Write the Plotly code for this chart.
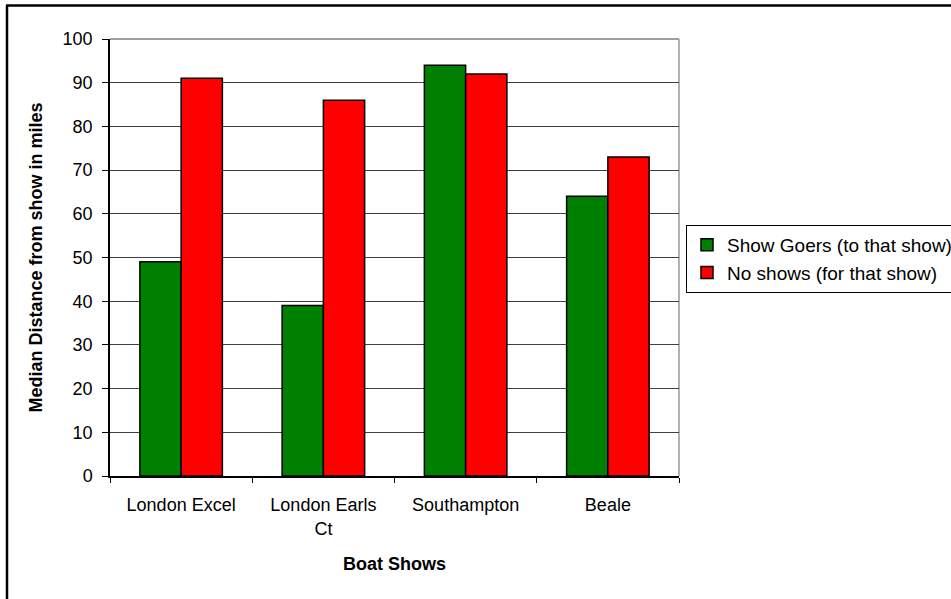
import plotly.graph_objects as go

# Boat show categories and median distances (miles)
shows = ["London Excel", "London Earls Ct", "Southampton", "Beale"]
show_labels = ["London Excel", "London Earls<br>Ct", "Southampton", "Beale"]
goers = [49, 39, 94, 64]
no_shows = [91, 86, 92, 73]

W, H = 951, 599
L, R, T, B = 110, 272, 39, 123
plot_w = W - L - R
plot_h = H - T - B


def px_x(px):
    return (px - L) / plot_w


def px_y(py):
    return (H - B - py) / plot_h


FONT = "Arial, Liberation Sans, sans-serif"

fig = go.Figure()
fig.add_bar(
    x=shows, y=goers, name="Show Goers (to that show)",
    marker=dict(color="#008000", line=dict(color="black", width=1.5)),
)
fig.add_bar(
    x=shows, y=no_shows, name="No shows (for that show)",
    marker=dict(color="#FF0000", line=dict(color="black", width=1.5)),
)

# plot-area frame (top/right) and outer chart border
shapes = [
    dict(type="line", xref="paper", yref="paper", x0=0, x1=1, y0=1, y1=1,
         line=dict(color="#808080", width=1.5), layer="below"),
    dict(type="line", xref="paper", yref="paper", x0=1, x1=1, y0=0, y1=1,
         line=dict(color="#999999", width=1.5), layer="below"),
    dict(type="line", xref="paper", yref="paper",
         x0=px_x(6), x1=px_x(W + 20), y0=px_y(5.5), y1=px_y(5.5),
         line=dict(color="black", width=2.5)),
    dict(type="line", xref="paper", yref="paper",
         x0=px_x(7), x1=px_x(7), y0=px_y(5.5), y1=px_y(H + 20),
         line=dict(color="black", width=2.5)),
]

fig.update_layout(
    width=W, height=H,
    margin=dict(l=L, r=R, t=T, b=B, autoexpand=False),
    paper_bgcolor="white", plot_bgcolor="white",
    font=dict(family=FONT, size=16, color="black"),
    barmode="group", bargap=0.42, bargroupgap=0,
    shapes=shapes,
    legend=dict(
        x=px_x(686), y=px_y(225), xanchor="left", yanchor="top",
        bordercolor="black", borderwidth=1, bgcolor="white",
        font=dict(family=FONT, size=19, color="black"),
        tracegroupgap=0,
    ),
    xaxis=dict(
        tickmode="array", tickvals=shows, ticktext=show_labels,
        tickson="boundaries", ticks="outside", ticklen=5, tickcolor="black",
        showline=True, linecolor="black", linewidth=1.5,
        showgrid=False, automargin=False,
        tickfont=dict(family=FONT, size=18),
        ticklabelstandoff=12,
        title=dict(text="<b>Boat Shows</b>", font=dict(family=FONT, size=18), standoff=20),
    ),
    yaxis=dict(
        range=[0, 100], dtick=10, tick0=0,
        ticks="outside", ticklen=6, tickcolor="black",
        showline=True, linecolor="black", linewidth=1.5,
        showgrid=True, gridcolor="#404040", gridwidth=1,
        zeroline=False, automargin=False,
        tickfont=dict(family=FONT, size=18),
        ticklabelstandoff=6,
        title=dict(text="<b>Median Distance from show in miles</b>",
                   font=dict(family=FONT, size=18), standoff=15),
    ),
)

fig.write_html("out.html")
